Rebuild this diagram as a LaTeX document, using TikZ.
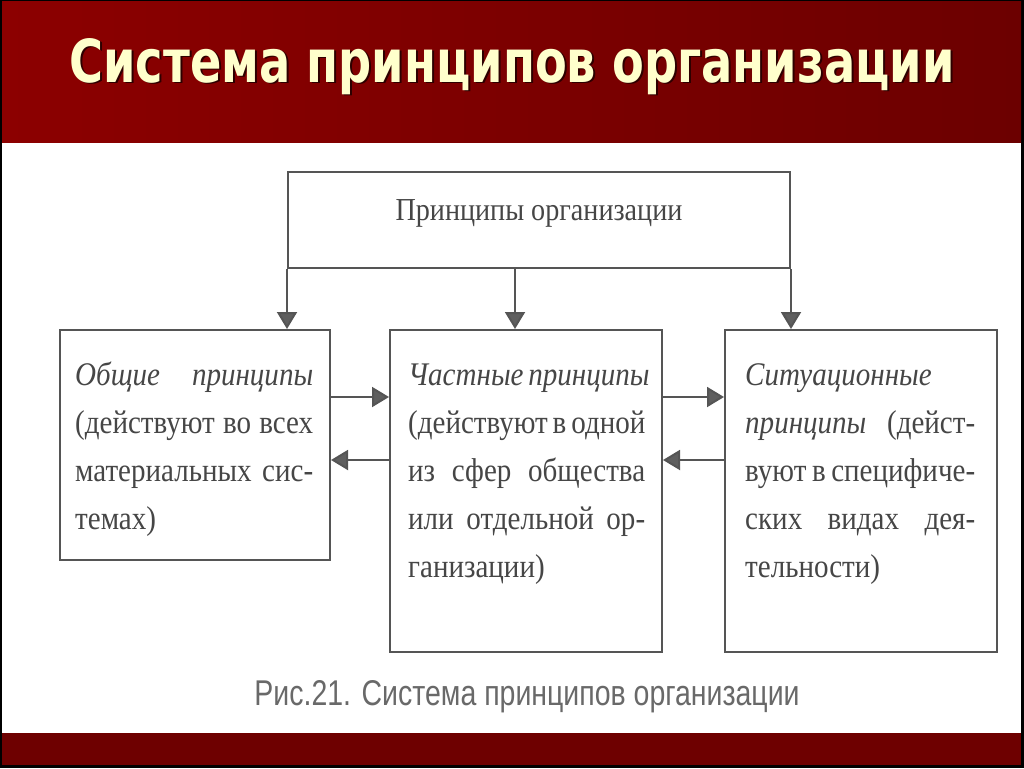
\documentclass[tikz,border=0pt]{standalone}
\usepackage{fontspec}
\usepackage{graphicx}
\usetikzlibrary{arrows.meta}
\newfontfamily\boxserif[FakeStretch=0.88]{Liberation Serif}
\newfontfamily\capsans{Liberation Sans}
\newfontfamily\headsans{DejaVu Sans}
\definecolor{barL}{RGB}{140,0,0}
\definecolor{barR}{RGB}{108,0,0}
\definecolor{barB}{RGB}{110,0,0}
\definecolor{titlecol}{RGB}{255,255,204}
\definecolor{shadowcol}{RGB}{45,0,0}
\definecolor{linecol}{RGB}{85,85,85}
\definecolor{tipcol}{RGB}{95,95,95}
\definecolor{txtcol}{RGB}{70,70,70}
\definecolor{capcol}{RGB}{105,105,105}
\newcommand{\jl}[1]{\makebox[\linewidth][s]{#1}}
\tikzset{
  box/.style={draw=linecol, line width=2pt, fill=white, inner sep=0pt},
  arr/.style={draw=linecol, line width=2pt, -{Triangle[length=17pt,width=20pt,fill=tipcol]}},
  boxtext/.style={anchor=base west, inner sep=0pt, text=txtcol, font=\boxserif\fontsize{33}{48}\selectfont},
}
\begin{document}
\begin{tikzpicture}[x=1pt,y=-1pt]
\useasboundingbox (0,0) rectangle (1024,768);
% frame and bars
\fill[black] (0,0) rectangle (1024,768);
\shade[left color=barL, right color=barR] (2,2) rectangle (1021,143);
\fill[white] (2,143) rectangle (1021,733);
\fill[barB] (2,733) rectangle (1021,765);
% title
\node[anchor=base, inner sep=0pt, text=shadowcol] (titleshadow) at (514,84)
  {\resizebox{885pt}{44pt}{\headsans\bfseries Система принципов организации}};
\node[anchor=base, inner sep=0pt, text=titlecol] (title) at (512,82)
  {\resizebox{885pt}{44pt}{\headsans\bfseries Система принципов организации}};
% boxes
\node[box, minimum width=502pt, minimum height=96pt, text=txtcol,
      font=\boxserif\fontsize{32}{48}\selectfont, text height=10pt, text depth=10pt]
  (top) at (539,220) {Принципы организации};
\node[box, minimum width=270pt, minimum height=230pt] (L) at (195,445) {};
\node[box, minimum width=272pt, minimum height=322pt] (M) at (526,491) {};
\node[box, minimum width=272pt, minimum height=322pt] (R) at (861,491) {};
% box texts
\node[boxtext] (Lt) at (75,385) {\parbox[t]{238pt}{%
  \jl{\itshape Общие принципы}\\
  \jl{(действуют во всех}\\
  \jl{материальных сис-}\\
  темах)}};
\node[boxtext] (Mt) at (408,385) {\parbox[t]{237pt}{%
  \jl{\itshape Частные принципы}\\
  \jl{(действуют в одной}\\
  \jl{из сфер общества}\\
  \jl{или отдельной ор-}\\
  ганизации)}};
\node[boxtext] (Rt) at (745,385) {\parbox[t]{230pt}{%
  {\itshape Ситуационные}\\
  \jl{{\itshape принципы} (дейст-}\\
  \jl{вуют в специфиче-}\\
  \jl{ских видах дея-}\\
  тельности)}};
% helper coordinates
\coordinate (mx) at (515,0);
\coordinate (yA) at (0,397);
\coordinate (yB) at (0,460);
% vertical arrows
\draw[arr] (top.south west) -- (top.south west |- L.north);
\draw[arr] (mx |- top.south) -- (mx |- M.north);
\draw[arr] (top.south east) -- (top.south east |- R.north);
% horizontal arrows
\draw[arr] (L.east |- yA) -- (M.west |- yA);
\draw[arr] (M.west |- yB) -- (L.east |- yB);
\draw[arr] (M.east |- yA) -- (R.west |- yA);
\draw[arr] (R.west |- yB) -- (M.east |- yB);
% caption
\node[anchor=base, inner sep=0pt, text=capcol] (cap) at (527,705)
  {\resizebox{545pt}{25pt}{\capsans Рис.21. Система принципов организации}};
\end{tikzpicture}
\end{document}
